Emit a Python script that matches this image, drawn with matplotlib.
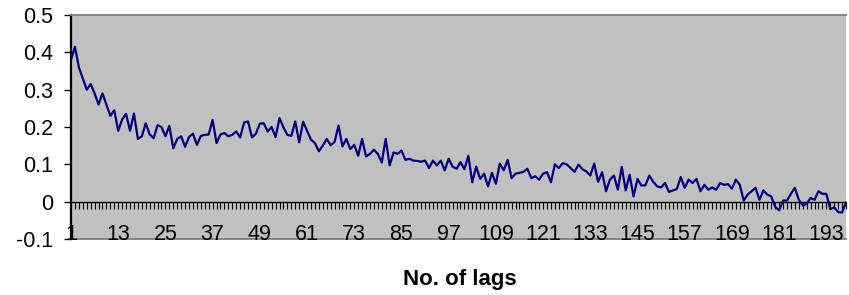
import numpy as np
import matplotlib
matplotlib.use('Agg')
import matplotlib.pyplot as plt

plt.rcParams['font.family'] = ['Liberation Sans', 'DejaVu Sans']

# autocorrelation values, lag 1..198
acf = [
    0.380, 0.415, 0.360, 0.330, 0.300, 0.315, 0.290, 0.260, 0.290, 0.260,
    0.230, 0.245, 0.190, 0.220, 0.235, 0.190, 0.236, 0.168, 0.175, 0.210,
    0.180, 0.170, 0.205, 0.200, 0.175, 0.203, 0.143, 0.168, 0.175, 0.147,
    0.173, 0.182, 0.152, 0.176, 0.179, 0.180, 0.219, 0.157, 0.180, 0.184,
    0.175, 0.179, 0.188, 0.172, 0.212, 0.215, 0.172, 0.182, 0.209, 0.210,
    0.188, 0.200, 0.173, 0.224, 0.199, 0.179, 0.176, 0.215, 0.159, 0.214,
    0.190, 0.166, 0.157, 0.135, 0.150, 0.168, 0.151, 0.160, 0.204, 0.148,
    0.168, 0.141, 0.152, 0.123, 0.168, 0.121, 0.128, 0.139, 0.128, 0.105,
    0.168, 0.097, 0.132, 0.128, 0.137, 0.112, 0.115, 0.110, 0.109, 0.107,
    0.110, 0.090, 0.110, 0.097, 0.110, 0.084, 0.115, 0.094, 0.088, 0.106,
    0.087, 0.123, 0.052, 0.094, 0.061, 0.075, 0.041, 0.077, 0.048, 0.102,
    0.084, 0.112, 0.063, 0.075, 0.077, 0.080, 0.088, 0.063, 0.068, 0.059,
    0.075, 0.079, 0.052, 0.100, 0.090, 0.103, 0.100, 0.090, 0.080, 0.099,
    0.087, 0.081, 0.070, 0.102, 0.053, 0.079, 0.028, 0.059, 0.070, 0.032,
    0.093, 0.030, 0.072, 0.014, 0.061, 0.043, 0.044, 0.070, 0.053, 0.041,
    0.038, 0.050, 0.026, 0.030, 0.034, 0.066, 0.037, 0.059, 0.050, 0.061,
    0.028, 0.045, 0.032, 0.038, 0.032, 0.050, 0.045, 0.047, 0.035, 0.059,
    0.045, 0.003, 0.019, 0.028, 0.037, 0.005, 0.030, 0.019, 0.014, -0.014,
    -0.023, 0.003, 0.003, 0.021, 0.037, 0.005, -0.010, -0.006, 0.010, 0.005,
    0.028, 0.021, 0.021, -0.020, -0.015, -0.028, -0.029, -0.002,
]
lags = np.arange(1, len(acf) + 1)
label_lags = list(range(1, 194, 12))
y_ticks = [-0.1, 0, 0.1, 0.2, 0.3, 0.4, 0.5]
y_labels = ['-0.1', '0', '0.1', '0.2', '0.3', '0.4', '0.5']

fig = plt.figure(figsize=(8.49, 2.95), dpi=100)
ax = fig.add_axes([71 / 849, 1 - 239 / 295, 775 / 849, 224 / 295])
ax.set_facecolor('#C0C0C0')

ax.plot(lags, acf, color='#000080', linewidth=1.6, zorder=3)

ax.set_xlim(1, len(acf))
ax.set_ylim(-0.1, 0.5)

# category axis crosses at zero
ax.spines['bottom'].set_position(('data', 0))
ax.spines['bottom'].set_color('#000000')
ax.spines['bottom'].set_linewidth(1.0)
ax.spines['left'].set_color('#000000')
ax.spines['left'].set_linewidth(1.6)
ax.spines['top'].set_color('#808080')
ax.spines['top'].set_linewidth(1.3)
ax.spines['right'].set_visible(False)
ax.axhline(-0.1, color='#808080', linewidth=1.3, clip_on=False, zorder=1)

ax.set_xticks(label_lags)
ax.set_xticklabels([str(v) for v in label_lags])
ax.set_xticks(lags, minor=True)
ax.tick_params(axis='x', which='both', direction='out', length=5,
               width=0.8, color='#000000', labelsize=15.5, pad=11)

ax.set_yticks(y_ticks)
ax.set_yticklabels(y_labels)
ax.tick_params(axis='y', direction='out', length=5, width=1.0,
               color='#000000', labelsize=15.5, pad=8)

fig.text(460 / 849, 1 - 279 / 295, 'No. of lags', ha='center',
         va='center', fontsize=16, fontweight='bold')

fig.savefig('out.png', dpi=100, facecolor='white')
